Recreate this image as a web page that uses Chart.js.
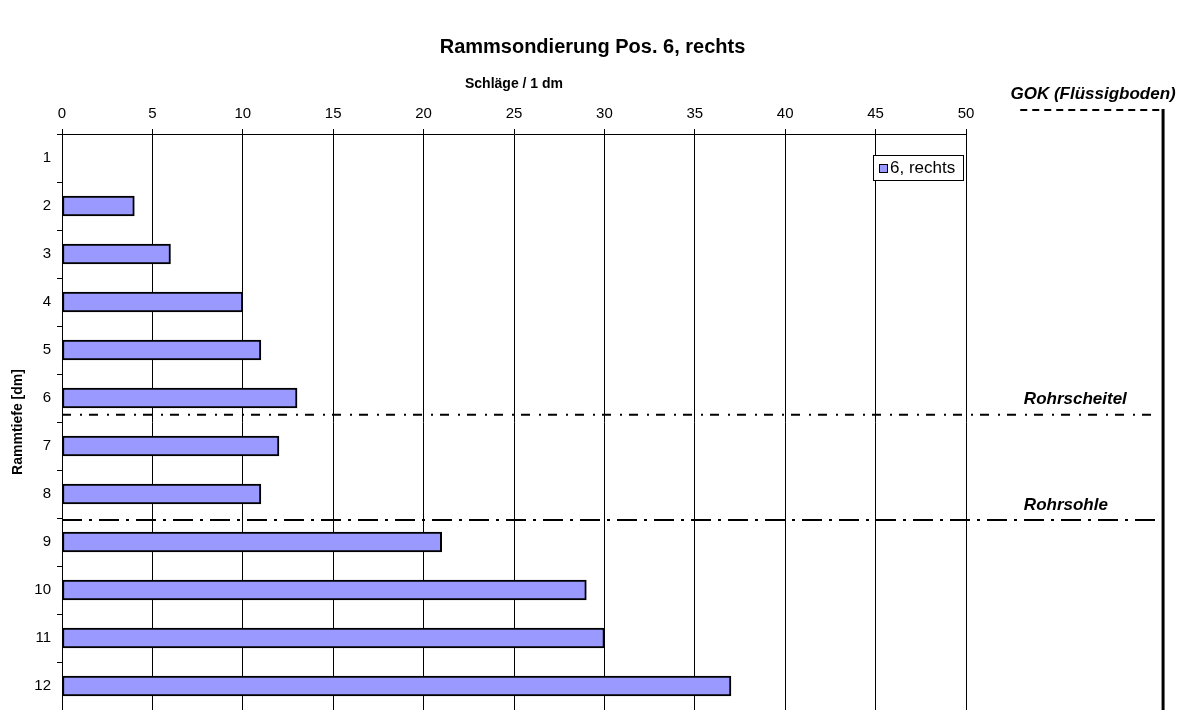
<!DOCTYPE html>
<html><head><meta charset="utf-8">
<script src="https://cdn.jsdelivr.net/npm/chart.js@4/dist/chart.umd.min.js"></script>
<style>html,body{margin:0;padding:0;background:#fff}#wrap{width:1185px;height:710px;position:relative}</style>
</head><body><div id="wrap"><canvas id="c"></canvas></div>
<script>
const chartTitle = 'Rammsondierung Pos. 6, rechts';
const xAxisTitle = 'Schläge / 1 dm';
const yAxisTitle = 'Rammtiefe [dm]';
const seriesName = '6, rechts';
const depthLabels = ['1','2','3','4','5','6','7','8','9','10','11','12'];
const blows = [0, 4, 6, 10, 11, 13, 12, 11, 21, 29, 30, 37];
const xTickValues = [0, 5, 10, 15, 20, 25, 30, 35, 40, 45, 50];
const levelNames = ['GOK (Flüssigboden)', 'Rohrscheitel', 'Rohrsohle'];
const levelDepths = [-0.5, 5.85, 8.04];

const FONT = "'Liberation Sans', Arial, sans-serif";

const overlay = {
  id: 'overlay',
  afterDraw(chart) {
    const ctx = chart.ctx, xs = chart.scales.x, ys = chart.scales.y, ca = chart.chartArea;
    const depthPx = d => ys.getPixelForValue(d - 0.5);
    const xp = v => xs.getPixelForValue(v);
    ctx.save();
    // title
    ctx.fillStyle = '#000';
    ctx.font = "bold 20px " + FONT;
    ctx.textAlign = 'center'; ctx.textBaseline = 'middle';
    ctx.fillText(chartTitle, chart.width / 2, 47);

    const rightX = xp(60.9);
    const yG = depthPx(levelDepths[0]);
    const yS = depthPx(levelDepths[1]);
    const yH = depthPx(levelDepths[2]);
    ctx.strokeStyle = '#000';
    ctx.lineWidth = 2;
    // GOK dashed
    ctx.setLineDash([7, 5]);
    ctx.beginPath(); ctx.moveTo(xp(53), yG); ctx.lineTo(rightX, yG); ctx.stroke();
    // Rohrscheitel
    ctx.setLineDash([9, 9, 2, 7]);
    ctx.beginPath(); ctx.moveTo(xp(0), yS); ctx.lineTo(xp(60.55), yS); ctx.stroke();
    // Rohrsohle
    ctx.setLineDash([20, 7, 3, 7]);
    ctx.beginPath(); ctx.moveTo(xp(0), yH); ctx.lineTo(rightX, yH); ctx.stroke();
    // vertical line
    ctx.setLineDash([]);
    ctx.lineWidth = 3;
    ctx.beginPath(); ctx.moveTo(rightX, yG - 1); ctx.lineTo(rightX, ca.bottom); ctx.stroke();

    // labels
    ctx.font = "italic bold 17px " + FONT;
    ctx.textBaseline = 'middle';
    ctx.textAlign = 'right';
    ctx.fillText(levelNames[0], xp(61.6), yG - 16);
    ctx.textAlign = 'left';
    ctx.fillText(levelNames[1], xp(53.2), yS - 15);
    ctx.fillText(levelNames[2], xp(53.2), yH - 15);

    // legend
    const lx = ca.right - 93, ly = ca.top + 21, lw = 90, lh = 25;
    ctx.fillStyle = '#fff';
    ctx.fillRect(lx, ly, lw, lh);
    ctx.lineWidth = 1;
    ctx.strokeStyle = '#000';
    ctx.strokeRect(lx + 0.5, ly + 0.5, lw, lh);
    ctx.fillStyle = '#9999ff';
    ctx.fillRect(lx + 6, ly + 9, 8, 8);
    ctx.strokeRect(lx + 6.5, ly + 9.5, 8, 8);
    ctx.fillStyle = '#000';
    ctx.font = "17px " + FONT;
    ctx.textAlign = 'left';
    ctx.fillText(seriesName, lx + 17, ly + 13.5);
    ctx.restore();
  }
};

new Chart(document.getElementById('c'), {
  type: 'bar',
  data: {
    labels: depthLabels,
    datasets: [{
      label: seriesName,
      data: blows,
      backgroundColor: '#9999ff',
      borderColor: '#000',
      borderWidth: 2,
      borderSkipped: false,
      barThickness: 20
    }]
  },
  options: {
    indexAxis: 'y',
    responsive: true,
    maintainAspectRatio: false,
    animation: false,
    layout: { padding: { left: 0, top: 0, right: 219, bottom: 0 } },
    plugins: { legend: { display: false }, title: { display: false }, tooltip: { enabled: false } },
    scales: {
      x: {
        type: 'linear', position: 'top', min: 0, max: 50,
        afterBuildTicks: s => { s.ticks = xTickValues.map(v => ({ value: v })); },
        ticks: { color: '#000', font: { family: FONT, size: 15 }, padding: 6 },
        grid: { color: '#000', lineWidth: 1, tickLength: 5, drawTicks: true },
        border: { color: '#000', width: 1 },
        title: { display: true, text: xAxisTitle, color: '#000', font: { family: FONT, size: 14, weight: 'bold' }, padding: { top: 76, bottom: 0 } },
        afterFit: s => { s.height = 134; s.paddingLeft = 0; s.paddingRight = 0; }
      },
      y: {
        type: 'category', position: 'left',
        ticks: { color: '#000', font: { family: FONT, size: 15 }, padding: 6 },
        grid: { drawOnChartArea: false, color: '#000', tickLength: 5, offset: true },
        border: { color: '#000', width: 1 },
        title: { display: true, text: yAxisTitle, color: '#000', font: { family: FONT, size: 14, weight: 'bold' }, padding: { top: 10, bottom: 0 } },
        afterFit: s => { s.width = 62; s.paddingTop = 0; s.paddingBottom = 0; }
      }
    }
  },
  plugins: [overlay]
});
</script>
</body></html>
